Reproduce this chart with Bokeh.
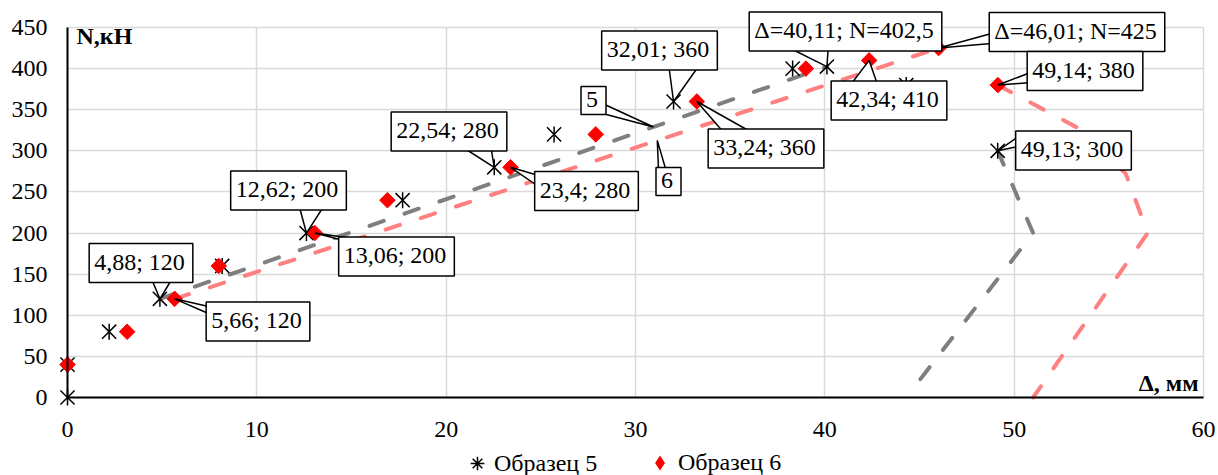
import numpy as np
from bokeh.plotting import figure
from bokeh.models import Range1d, FixedTicker, Label, Legend, LegendItem
from bokeh.embed import file_html
from bokeh.resources import INLINE

# ---------------- data ----------------
s5_delta = [0, 0, 2.2, 4.88, 8.17, 12.62, 17.7, 22.54, 25.7, 32.01, 38.3, 40.11, 44.3, 49.13]
s5_n = [0, 40, 80, 120, 160, 200, 240, 280, 320, 360, 400, 402.5, 380, 300]
s6_delta = [0, 3.15, 5.66, 7.99, 13.06, 16.9, 23.4, 27.9, 33.24, 39.0, 42.34, 46.01, 49.14]
s6_n = [40, 80, 120, 160, 200, 240, 280, 320, 360, 400, 410, 425, 380]

line5_up_delta = [4.88, 40.11]
line5_up_n = [120, 402.5]
line5_down_delta = [49.13, 51.0, 44.9]
line5_down_n = [300, 200, 18]
line6_up_delta = [5.66, 46.01]
line6_up_n = [120, 425]
line6_down_delta = [49.14, 53.35, 55.9, 57.05, 51.0]
line6_down_n = [380, 328, 272, 200, 0]

x_ticks = [0, 10, 20, 30, 40, 50, 60]
y_ticks = [0, 50, 100, 150, 200, 250, 300, 350, 400, 450]

legend_labels = ["Образец 5", "Образец 6"]
y_title = "N,кН"
x_title = "Δ, мм"

# ---------------- layout helpers (reference screen pixel -> data) ----------------
X0PX, Y0PX = 67.0, 397.0
KX, KY = 1136.0 / 60.0, 370.0 / 450.0


def dx(px):
    return (px - X0PX) / KX


def dy(py):
    return (Y0PX - py) / KY


SERIF = "Liberation Serif"
W, H = 1218, 475
# the plot frame covers the whole canvas; the axes sit at data 0
p = figure(width=W, height=H,
           x_range=Range1d(dx(0), dx(W)), y_range=Range1d(dy(H), dy(0)),
           output_backend="svg", toolbar_location=None,
           min_border_left=0, min_border_right=0, min_border_top=0, min_border_bottom=0)
p.outline_line_color = None
p.background_fill_color = "white"
p.border_fill_color = "white"

p.xaxis.ticker = FixedTicker(ticks=x_ticks)
p.yaxis.ticker = FixedTicker(ticks=y_ticks)
p.xaxis.fixed_location = 0
p.yaxis.fixed_location = 0
p.xaxis.bounds = (x_ticks[0], x_ticks[-1])
p.yaxis.bounds = (y_ticks[0], y_ticks[-1])
p.xgrid.ticker = FixedTicker(ticks=x_ticks)
p.ygrid.ticker = FixedTicker(ticks=y_ticks)
GRID = "#d9d9d9"
for g in (p.xgrid, p.ygrid):
    g.grid_line_color = GRID
    g.grid_line_width = 1.5
try:
    p.xgrid.cross_bounds = (y_ticks[0], y_ticks[-1])
    p.ygrid.cross_bounds = (x_ticks[0], x_ticks[-1])
except Exception:
    p.xgrid.visible = False
    p.ygrid.visible = False
    p.segment(x0=x_ticks, y0=[y_ticks[0]] * len(x_ticks), x1=x_ticks,
              y1=[y_ticks[-1]] * len(x_ticks), line_color=GRID, line_width=1.5)
    p.segment(x0=[x_ticks[0]] * len(y_ticks), y0=y_ticks, x1=[x_ticks[-1]] * len(y_ticks),
              y1=y_ticks, line_color=GRID, line_width=1.5)

for ax in (p.xaxis, p.yaxis):
    ax.axis_line_color = "black"
    ax.axis_line_width = 2
    ax.major_tick_line_color = None
    ax.minor_tick_line_color = None
    ax.major_label_text_font = SERIF
    ax.major_label_text_font_size = "24px"
    ax.major_label_text_color = "black"
p.xaxis.major_label_standoff = 18
p.yaxis.major_label_standoff = 14

# dashed guide lines
GRAY = "#7f7f7f"
PINK = "#ff8080"
for xs, ys, col in ((line5_up_delta, line5_up_n, GRAY), (line5_down_delta, line5_down_n, GRAY),
                    (line6_up_delta, line6_up_n, PINK), (line6_down_delta, line6_down_n, PINK)):
    p.line(xs, ys, line_color=col, line_width=4, line_dash="15 22", line_cap="round")

# markers
r5x = p.scatter(s5_delta, s5_n, marker="x", size=20, line_color="black", line_width=1.5)
r5v = p.scatter(s5_delta, s5_n, marker="dash", size=16, angle=np.pi / 2,
                line_color="black", line_width=1.5)
r6 = p.scatter(s6_delta, s6_n, marker="square", size=11, angle=np.pi / 4,
               fill_color="#ff0000", line_color="#ff0000")
# zero-size twins whose only role is the legend swatch shape
r5_leg = p.scatter(s5_delta, s5_n, marker="asterisk", size=0, line_color="black", line_width=1.5)
r6_leg = p.scatter(s6_delta, s6_n, marker="diamond", size=0, fill_color="#ff0000", line_color=None)

# callouts: text, box (x1, x2, y1, y2) in reference px, wedge base px, tip in data
tip5 = (30.95, float(np.interp(30.95, line5_up_delta, line5_up_n)))
tip6 = (31.15, float(np.interp(31.15, line6_up_delta, line6_up_n)))
callouts = [
    ("4,88; 120", (87, 194, 244, 281), [(150, 281), (173, 281)], (s5_delta[3], s5_n[3])),
    ("5,66; 120", (203, 312, 303, 339), [(203, 306), (203, 313)], (s6_delta[2], s6_n[2])),
    ("12,62; 200", (228, 348, 172, 208), [(298, 208), (325, 208)], (s5_delta[5], s5_n[5])),
    ("13,06; 200", (336, 456, 238, 274), [(355, 238), (387, 238)], (s6_delta[4], s6_n[4])),
    ("22,54; 280", (389, 508, 113, 149), [(458, 149), (490, 149)], (s5_delta[7], s5_n[7])),
    ("23,4; 280", (533, 639, 172, 209), [(533, 175), (533, 186)], (s6_delta[6], s6_n[6])),
    ("5", (579, 607, 82, 118), [(607, 103), (607, 113)], tip5),
    ("6", (654, 682, 163, 199), [(658, 163), (665, 163)], tip6),
    ("32,01; 360", (599, 719, 32, 68), [(668, 68), (700, 68)], (s5_delta[9], s5_n[9])),
    ("33,24; 360", (705, 826, 129, 167), [(725, 129), (755, 129)], (s6_delta[8], s6_n[8])),
    ("Δ=40,11; N=402,5", (747, 943, 14, 48), [(780, 48), (828, 48)], (s5_delta[11], s5_n[11])),
    ("42,34; 410", (828, 949, 82, 118), [(848, 82), (878, 82)], (s6_delta[10], s6_n[10])),
    ("Δ=46,01; N=425", (986, 1167, 14, 49), [(986, 33), (986, 43)], (s6_delta[11], s6_n[11])),
    ("49,14; 380", (1025, 1144, 53, 88), [(1025, 72), (1025, 82)], (s6_delta[12], s6_n[12])),
    ("49,13; 300", (1013, 1133, 132, 168), [(1013, 136), (1013, 146)], (s5_delta[13], s5_n[13])),
]

wx, wy = [], []
INSET = 5
for text, (x1, x2, y1, y2), base, tip in callouts:
    pts = []
    for bx, by in base:
        if by == y2:
            by -= INSET
        elif by == y1:
            by += INSET
        elif bx == x1:
            bx += INSET
        elif bx == x2:
            bx -= INSET
        pts.append((dx(bx), dy(by)))
    wx.append([pts[0][0], tip[0], pts[1][0]])
    wy.append([pts[0][1], tip[1], pts[1][1]])
p.patches(wx, wy, fill_color="white", line_color="black", line_width=1.5)

for text, (x1, x2, y1, y2), base, tip in callouts:
    p.add_layout(Label(x=dx((x1 + x2) / 2), y=dy((y1 + y2) / 2), text=text,
                       text_align="center", text_baseline="middle",
                       text_font=SERIF, text_font_size="24px", text_color="black",
                       background_fill_color="white", border_line_color="black",
                       border_line_width=1.5, padding=(5, 8, 5, 8)))

# axis titles
p.add_layout(Label(x=dx(76), y=dy(35), text=y_title, text_align="left", text_baseline="middle",
                   text_font=SERIF, text_font_size="24px", text_font_style="bold", text_color="black"))
p.add_layout(Label(x=dx(1198), y=dy(382), text=x_title, text_align="right", text_baseline="middle",
                   text_font=SERIF, text_font_size="24px", text_font_style="bold", text_color="black"))

# legends (one per item so that swatch sizes can differ); location = bottom-left in frame px
common = dict(orientation="horizontal", padding=0, margin=0, border_line_color=None,
              background_fill_alpha=0, label_text_font=SERIF, label_text_font_size="24px",
              label_text_color="black")
leg5 = Legend(items=[LegendItem(label=legend_labels[0], renderers=[r5_leg])],
              location=(460, -5), glyph_width=34, glyph_height=34, label_standoff=-6, **common)
leg6 = Legend(items=[LegendItem(label=legend_labels[1], renderers=[r6_leg])],
              location=(641, -6), glyph_width=37, glyph_height=37, label_standoff=-6, **common)
p.add_layout(leg5)
p.add_layout(leg6)

open("out.html", "w").write(file_html(p, INLINE))
